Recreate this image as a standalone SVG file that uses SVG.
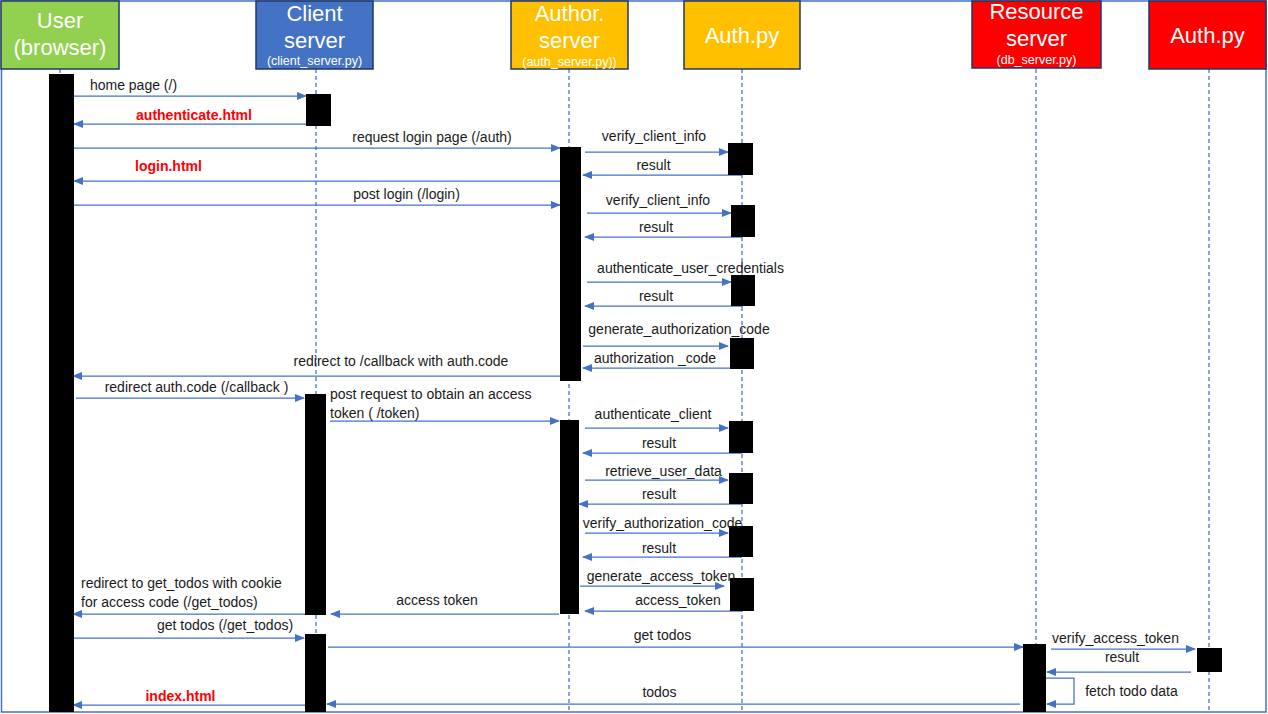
<svg xmlns="http://www.w3.org/2000/svg" width="1268" height="714" viewBox="0 0 1268 714">
<style>
.hdr{stroke:#203864;stroke-width:1.5}
.ht{font-family:"Liberation Sans",Arial,sans-serif;font-size:22px;fill:#fff;text-anchor:middle}
.hs{font-family:"Liberation Sans",Arial,sans-serif;font-size:12.5px;fill:#fff;text-anchor:middle}
.life{stroke:#4472C4;stroke-width:1.25;stroke-dasharray:4 3;fill:none}
.msg{stroke:#4472C4;stroke-width:1.25;fill:none;marker-end:url(#ah)}
.act{fill:#000}
.lbl{font-family:"Liberation Sans",Arial,sans-serif;font-size:14px;fill:#1a1a1a;text-anchor:middle}
.lbs{font-family:"Liberation Sans",Arial,sans-serif;font-size:14px;fill:#1a1a1a}
.red{font-family:"Liberation Sans",Arial,sans-serif;font-size:14px;font-weight:bold;fill:#FF0000;text-anchor:middle}
</style>
<defs>
<marker id="ah" markerWidth="10" markerHeight="8" refX="9" refY="4" orient="auto" markerUnits="userSpaceOnUse">
<path d="M0,0 L10,4 L0,8 Z" fill="#4472C4"/>
</marker>
</defs>
<rect x="0" y="0" width="1268" height="714" fill="#fff"/>
<rect x="1.5" y="1" width="1264.5" height="711" fill="none" stroke="#4472C4" stroke-width="1.5"/>

<g id="lifelines">
<line class="life" x1="60" y1="69" x2="60" y2="712"/>
<line class="life" x1="316" y1="69" x2="316" y2="712"/>
<line class="life" x1="569" y1="69" x2="569" y2="712"/>
<line class="life" x1="742" y1="69" x2="742" y2="712"/>
<line class="life" x1="1036" y1="69" x2="1036" y2="712"/>
<line class="life" x1="1209" y1="69" x2="1209" y2="712"/>
</g>

<g id="node-user">
<rect class="hdr" x="1" y="1" width="118" height="68" fill="#92D050"/>
<text class="ht" x="60" y="28">User</text>
<text class="ht" x="60" y="55">(browser)</text>
</g>
<g id="node-client">
<rect class="hdr" x="256" y="1" width="117" height="68" fill="#4472C4"/>
<text class="ht" x="314.5" y="21">Client</text>
<text class="ht" x="314.5" y="48">server</text>
<text class="hs" x="314.5" y="65">(client_server.py)</text>
</g>
<g id="node-author">
<rect class="hdr" x="511" y="1" width="117" height="68" fill="#FFC000"/>
<text class="ht" x="569.5" y="21">Author.</text>
<text class="ht" x="569.5" y="48">server</text>
<text class="hs" x="569.5" y="66">(auth_server.py))</text>
</g>
<g id="node-authpy1">
<rect class="hdr" x="684" y="1" width="116" height="68" fill="#FFC000"/>
<text class="ht" x="742" y="43">Auth.py</text>
</g>
<g id="node-resource">
<rect class="hdr" x="972" y="1" width="129" height="67" fill="#FF0000"/>
<text class="ht" x="1036.5" y="19">Resource</text>
<text class="ht" x="1036.5" y="46">server</text>
<text class="hs" x="1036.5" y="64">(db_server.py)</text>
</g>
<g id="node-authpy2">
<rect class="hdr" x="1149" y="1" width="117" height="68" fill="#FF0000"/>
<text class="ht" x="1207.5" y="43">Auth.py</text>
</g>

<g id="connectors">
<line class="msg" x1="74" y1="96" x2="306" y2="96"/>
<line class="msg" x1="306" y1="124" x2="74" y2="124"/>
<line class="msg" x1="74" y1="148" x2="560" y2="148"/>
<line class="msg" x1="560" y1="181" x2="74" y2="181"/>
<line class="msg" x1="74" y1="205" x2="560" y2="205"/>
<line class="msg" x1="585" y1="152" x2="728" y2="152"/>
<line class="msg" x1="742" y1="175" x2="583" y2="175"/>
<line class="msg" x1="587" y1="213" x2="731" y2="213"/>
<line class="msg" x1="743" y1="237" x2="585" y2="237"/>
<line class="msg" x1="587" y1="282" x2="731" y2="282"/>
<line class="msg" x1="743" y1="306" x2="585" y2="306"/>
<line class="msg" x1="583" y1="346" x2="728" y2="346"/>
<line class="msg" x1="743" y1="368" x2="583" y2="368"/>
<line class="msg" x1="560" y1="376" x2="73" y2="376"/>
<line class="msg" x1="76" y1="398" x2="304" y2="398"/>
<line class="msg" x1="330" y1="421" x2="559" y2="421"/>
<line class="msg" x1="585" y1="428" x2="728" y2="428"/>
<line class="msg" x1="742" y1="453" x2="583" y2="453"/>
<line class="msg" x1="585" y1="480" x2="728" y2="480"/>
<line class="msg" x1="742" y1="504" x2="579" y2="504"/>
<line class="msg" x1="585" y1="533" x2="728" y2="533"/>
<line class="msg" x1="742" y1="557" x2="583" y2="557"/>
<line class="msg" x1="580" y1="586" x2="724" y2="586"/>
<line class="msg" x1="742" y1="611" x2="585" y2="611"/>
<line class="msg" x1="559" y1="614" x2="331" y2="614"/>
<line class="msg" x1="316" y1="614" x2="73" y2="614"/>
<line class="msg" x1="74" y1="638" x2="304" y2="638"/>
<line class="msg" x1="328" y1="647" x2="1023" y2="647"/>
<line class="msg" x1="1051" y1="649" x2="1195" y2="649"/>
<line class="msg" x1="1191" y1="672" x2="1047" y2="672"/>
<path class="msg" d="M1046,678 H1074 V704 H1047"/>
<line class="msg" x1="1020" y1="704" x2="327" y2="704"/>
<line class="msg" x1="316" y1="705" x2="73" y2="705"/>
</g>

<g id="activations">
<rect class="act" x="49" y="74" width="25" height="638"/>
<rect class="act" x="306" y="94" width="25" height="32"/>
<rect class="act" x="305" y="394" width="21" height="221"/>
<rect class="act" x="305" y="634" width="21" height="78"/>
<rect class="act" x="560" y="147" width="21" height="234"/>
<rect class="act" x="560" y="420" width="19" height="194"/>
<rect class="act" x="728" y="143" width="25" height="32"/>
<rect class="act" x="731" y="205" width="24" height="32"/>
<rect class="act" x="731" y="275" width="24" height="31"/>
<rect class="act" x="730" y="338" width="24" height="31"/>
<rect class="act" x="729" y="421" width="24" height="32"/>
<rect class="act" x="729" y="473" width="24" height="31"/>
<rect class="act" x="729" y="526" width="24" height="31"/>
<rect class="act" x="730" y="578" width="24" height="33"/>
<rect class="act" x="1023" y="644" width="23" height="68"/>
<rect class="act" x="1197" y="648" width="25" height="24"/>
</g>

<g id="labels">
<text class="lbl" x="133.5" y="90">home page (/)</text>
<text class="red" x="194" y="120">authenticate.html</text>
<text class="lbl" x="432" y="142">request login page (/auth)</text>
<text class="red" x="168.5" y="171">login.html</text>
<text class="lbl" x="406.5" y="199">post login (/login)</text>
<text class="lbl" x="654" y="141">verify_client_info</text>
<text class="lbl" x="653.5" y="170">result</text>
<text class="lbl" x="658" y="205">verify_client_info</text>
<text class="lbl" x="656" y="232">result</text>
<text class="lbl" x="690.5" y="273">authenticate_user_credentials</text>
<text class="lbl" x="656" y="301">result</text>
<text class="lbl" x="679" y="334">generate_authorization_code</text>
<text class="lbl" x="655" y="363">authorization _code</text>
<text class="lbl" x="401" y="366">redirect to /callback with auth.code</text>
<text class="lbl" x="196.5" y="392">redirect auth.code (/callback )</text>
<text class="lbs" x="330" y="399">post request to obtain an access</text>
<text class="lbs" x="330" y="418">token ( /token)</text>
<text class="lbl" x="653" y="419">authenticate_client</text>
<text class="lbl" x="659" y="448">result</text>
<text class="lbl" x="663.5" y="476">retrieve_user_data</text>
<text class="lbl" x="659" y="499">result</text>
<text class="lbl" x="662.5" y="528">verify_authorization_code</text>
<text class="lbl" x="659" y="553">result</text>
<text class="lbl" x="661" y="581">generate_access_token</text>
<text class="lbl" x="678" y="605">access_token</text>
<text class="lbl" x="437" y="605">access token</text>
<text class="lbs" x="81" y="588">redirect to get_todos with cookie</text>
<text class="lbs" x="81" y="607">for access code (/get_todos)</text>
<text class="lbl" x="225" y="630">get todos (/get_todos)</text>
<text class="lbl" x="662.5" y="640">get todos</text>
<text class="lbl" x="1115.5" y="643">verify_access_token</text>
<text class="lbl" x="1122" y="662">result</text>
<text class="lbl" x="1131.5" y="696">fetch todo data</text>
<text class="lbl" x="659.5" y="697">todos</text>
<text class="red" x="180.5" y="701">index.html</text>
</g>
</svg>
